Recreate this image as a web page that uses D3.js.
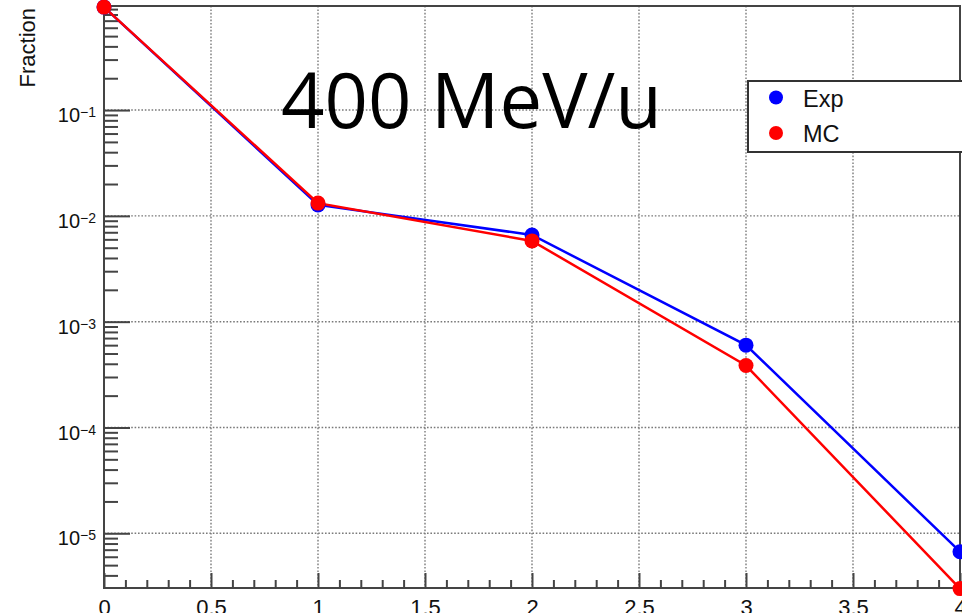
<!DOCTYPE html>
<html>
<head>
<meta charset="utf-8">
<script src="https://cdn.jsdelivr.net/npm/d3@7"></script>
<style>
  body { margin: 0; background: #fff; overflow: hidden; }
  svg { display: block; }
</style>
</head>
<body>
<div id="chart"></div>
<script>
// data
const xValues = [0, 1, 2, 3, 4];
const expValues = [0.94, 0.0127, 0.0066, 6.0e-4, 6.7e-6];
const mcValues = [0.94, 0.0132, 0.0058, 3.85e-4, 3.0e-6];
const xMajorTicks = [0, 0.5, 1, 1.5, 2, 2.5, 3, 3.5, 4];
const yMajorTicks = [1e-5, 1e-4, 1e-3, 1e-2, 1e-1];
const yExponents = ["−5", "−4", "−3", "−2", "−1"];
const seriesNames = ["Exp", "MC"];
const seriesColors = ["#0000ff", "#ff0000"];

const width = 962;
const height = 613;
const frame = { left: 104, right: 960, top: 6, bottom: 588 };

const svg = d3.select("#chart")
  .append("svg")
  .attr("width", width)
  .attr("height", height);

const x = d3.scaleLinear()
  .domain([0, 4])
  .range([frame.left, frame.right]);

const y = d3.scaleLog()
  .domain([3.04e-6, 0.963])
  .range([frame.bottom, frame.top]);

// minor ticks
const xMinorTicks = d3.range(0, 41).map(d => d / 10).filter(d => Math.round(d * 10) % 5 !== 0);
const yMinorTicks = [];
for (let e = -6; e <= 0; e++) {
  for (let k = 2; k <= 9; k++) {
    const v = k * Math.pow(10, e);
    if (v >= y.domain()[0] && v <= y.domain()[1]) yMinorTicks.push(v);
  }
}

// grid
const grid = svg.append("g")
  .attr("stroke", "#7a7a7a")
  .attr("stroke-width", 1.4)
  .attr("stroke-dasharray", "1.6,1.8");

grid.selectAll("line.gx")
  .data(xMajorTicks.filter(d => d > 0 && d < 4))
  .join("line")
  .attr("x1", d => x(d)).attr("x2", d => x(d))
  .attr("y1", frame.top).attr("y2", frame.bottom);

grid.selectAll("line.gy")
  .data(yMajorTicks)
  .join("line")
  .attr("x1", frame.left).attr("x2", frame.right)
  .attr("y1", d => y(d)).attr("y2", d => y(d));

// axes (ticks pointing inward, ROOT style)
const axisColor = "#444";

const xMinorAxis = svg.append("g")
  .attr("transform", `translate(0,${frame.bottom})`)
  .call(d3.axisBottom(x).tickValues(xMinorTicks).tickSizeInner(-8).tickSizeOuter(0).tickFormat(""));

const xAxis = svg.append("g")
  .attr("transform", `translate(0,${frame.bottom})`)
  .call(d3.axisBottom(x).tickValues(xMajorTicks).tickSizeInner(-15).tickSizeOuter(0).tickPadding(11)
    .tickFormat(d3.format("~g")));

xAxis.selectAll("text")
  .attr("font-family", "'Liberation Sans', Arial, sans-serif")
  .attr("font-size", 22)
  .attr("fill", "#111");

const yMinorAxis = svg.append("g")
  .attr("transform", `translate(${frame.left},0)`)
  .call(d3.axisLeft(y).tickValues(yMinorTicks).tickSizeInner(-14).tickSizeOuter(0).tickFormat(""));

const yAxis = svg.append("g")
  .attr("transform", `translate(${frame.left},0)`)
  .call(d3.axisLeft(y).tickValues(yMajorTicks).tickSizeInner(-26).tickSizeOuter(0).tickPadding(8)
    .tickFormat(""));

yAxis.selectAll(".tick text")
  .attr("font-family", "'Liberation Sans', Arial, sans-serif")
  .attr("font-size", 20)
  .attr("fill", "#111")
  .attr("dy", "0.58em")
  .each(function(d, i) {
    const t = d3.select(this);
    t.append("tspan").text("10");
    t.append("tspan").attr("font-size", 14).attr("dy", -5).text(yExponents[i]);
  });

[xMinorAxis, xAxis, yMinorAxis, yAxis].forEach(g => {
  g.select(".domain").remove();
  g.selectAll(".tick line").attr("stroke", axisColor).attr("stroke-width", 2);
});

// frame
svg.append("rect")
  .attr("x", frame.left)
  .attr("y", frame.top)
  .attr("width", frame.right - frame.left)
  .attr("height", frame.bottom - frame.top)
  .attr("fill", "none")
  .attr("stroke", axisColor)
  .attr("stroke-width", 2);

// y axis title
svg.append("text")
  .attr("transform", "translate(35,8) rotate(-90)")
  .attr("text-anchor", "end")
  .attr("font-family", "'Liberation Sans', Arial, sans-serif")
  .attr("font-size", 22)
  .attr("fill", "#111")
  .text("Fraction");

// series
const line = d3.line()
  .x((d, i) => x(xValues[i]))
  .y(d => y(d));

[expValues, mcValues].forEach((vals, s) => {
  svg.append("path")
    .datum(vals)
    .attr("fill", "none")
    .attr("stroke", seriesColors[s])
    .attr("stroke-width", 2.5)
    .attr("d", line);
});

[expValues, mcValues].forEach((vals, s) => {
  svg.append("g")
    .selectAll("circle")
    .data(vals)
    .join("circle")
    .attr("cx", (d, i) => x(xValues[i]))
    .attr("cy", d => y(d))
    .attr("r", 7.5)
    .attr("fill", seriesColors[s]);
});

// big label
svg.append("text")
  .attr("x", 281)
  .attr("y", 128)
  .attr("font-family", "'Open Sans', sans-serif")
  .attr("font-size", 76)
  .attr("fill", "#000")
  .text("400 MeV/u");

// legend
const legend = svg.append("g");
legend.append("rect")
  .attr("x", 748)
  .attr("y", 81)
  .attr("width", 260)
  .attr("height", 71)
  .attr("fill", "#fff")
  .attr("stroke", "#333")
  .attr("stroke-width", 2);

const legendRows = [97.5, 133];
seriesNames.forEach((name, i) => {
  legend.append("circle")
    .attr("cx", 776)
    .attr("cy", legendRows[i])
    .attr("r", 7)
    .attr("fill", seriesColors[i]);
  legend.append("text")
    .attr("x", 803)
    .attr("y", legendRows[i] + 9)
    .attr("font-family", "'Liberation Sans', Arial, sans-serif")
    .attr("font-size", 23.5)
    .attr("fill", "#111")
    .text(name);
});
</script>
</body>
</html>
